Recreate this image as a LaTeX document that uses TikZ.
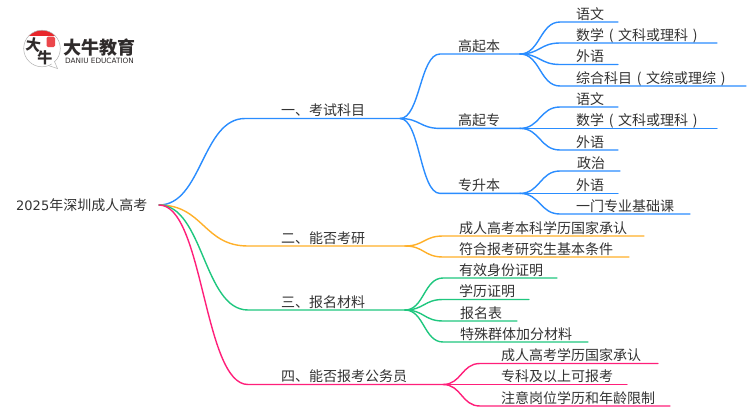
\documentclass[tikz,border=0pt]{standalone}
\usepackage{fontspec}
\usetikzlibrary{calc}
\setmainfont{Noto Sans CJK SC}
\newfontfamily\latinfont{DejaVu Sans}
\definecolor{cblue}{HTML}{2A8DFF}
\definecolor{corange}{HTML}{FFB029}
\definecolor{cgreen}{HTML}{1FC77F}
\definecolor{cpink}{HTML}{FF1F7A}
\definecolor{ctext}{HTML}{333333}
\definecolor{clogo}{HTML}{2F2B2B}
\definecolor{cred}{HTML}{E8262B}
\newcommand{\lp}{\makebox[14pt][c]{(}}
\newcommand{\rp}{\makebox[14pt][c]{)}}
\tikzset{
  x=1pt,y=-1pt,
  label text/.style={anchor=base west,inner sep=0pt,text=ctext,font=\fontsize{14}{14}\selectfont},
  link/.style={line width=1.4pt,line cap=round},
  logo text/.style={inner sep=0pt,text=clogo}
}
% name, parent, colour, x where the line turns flat, y, line end, text x, text
\newcommand{\branch}[8]{%
  \coordinate (#1h) at (#4,#5);
  \coordinate (#1) at (#6,#5);
  \coordinate (#1m) at ($(#2)!.5!(#1h)$);
  \node[label text] (#1t) at (#7,{#5-3}) {#8};
  \draw[link,#3] (#2) .. controls (#1m |- #2) and (#1m |- #1h) .. (#1h) -- (#1);
}
\begin{document}
\begin{tikzpicture}
\useasboundingbox (0,0) rectangle (750,410);
\fill[white] (0,0) rectangle (750,410);
% logo
\begin{scope}
  \clip (42,48.5) circle (18.3);
  \fill[cred] (20,29) rectangle (65,35.5);
\end{scope}
\draw[line width=0.5pt,black!30] (42,48.5) circle (18.3);
\fill[white] (50,62) -- (57.5,68.5) -- (53,60) -- cycle;
\draw[line width=0.5pt,black!30] (48.5,65.6) -- (57.5,68.5) -- (54.5,61.5);
\fill[cred!85,rounded corners=1.5pt] (46.5,36.5) rectangle (55,47);
\node[logo text,font=\fontsize{15}{15}\selectfont\bfseries,rotate=-8] (logoa) at (33.5,45) {大};
\node[logo text,font=\fontsize{15}{15}\selectfont\bfseries] (logob) at (45,58) {牛};
\node[logo text,font=\fontsize{18}{18}\selectfont\bfseries] (logoc) at (99.5,48) {大牛教育};
\node[logo text,font=\latinfont\fontsize{7.3}{8}\selectfont] (logod) at (99.5,60.5) {DANIU EDUCATION};
% root
\node[label text] (roott) at (16,210) {{\latinfont\fontsize{13}{13}\selectfont 2025}年深圳成人高考};
\coordinate (root) at (159,205);
% first branch
\branch{a}{root}{cblue}{245}{118.5}{400}{281}{一、考试科目}
\branch{aa}{a}{cblue}{440}{54}{520}{458}{高起本}
\branch{aaa}{aa}{cblue}{560}{22}{618}{576}{语文}
\branch{aab}{aa}{cblue}{560}{43}{717}{576}{数学\lp 文科或理科\rp}
\branch{aac}{aa}{cblue}{560}{64.5}{618}{576}{外语}
\branch{aad}{aa}{cblue}{560}{86}{746}{576}{综合科目\lp 文综或理综\rp}
\branch{ab}{a}{cblue}{440}{128.4}{520}{458}{高起专}
\branch{aba}{ab}{cblue}{560}{107}{618}{576}{语文}
\branch{abb}{ab}{cblue}{560}{128.4}{717}{576}{数学\lp 文科或理科\rp}
\branch{abc}{ab}{cblue}{560}{150}{618}{576}{外语}
\branch{ac}{a}{cblue}{440}{193.4}{520}{458}{专升本}
\branch{aca}{ac}{cblue}{560}{171}{620}{577}{政治}
\branch{acb}{ac}{cblue}{560}{193.4}{618}{576}{外语}
\branch{acc}{ac}{cblue}{560}{214}{690}{576}{一门专业基础课}
% second branch
\branch{b}{root}{corange}{248}{246}{405}{281}{二、能否考研}
\branch{ba}{b}{corange}{443}{236}{644}{459}{成人高考本科学历国家承认}
\branch{bb}{b}{corange}{443}{257}{629}{459}{符合报考研究生基本条件}
% third branch
\branch{c}{root}{cgreen}{248}{310}{405}{281}{三、报名材料}
\branch{ca}{c}{cgreen}{443}{278}{557}{459}{有效身份证明}
\branch{cb}{c}{cgreen}{443}{299.5}{529}{459}{学历证明}
\branch{cc}{c}{cgreen}{443}{321}{517}{460}{报名表}
\branch{cd}{c}{cgreen}{443}{342}{588}{460}{特殊群体加分材料}
% fourth branch
\branch{d}{root}{cpink}{248}{384.5}{443}{281}{四、能否报考公务员}
\branch{da}{d}{cpink}{480}{363.5}{658}{501}{成人高考学历国家承认}
\branch{db}{d}{cpink}{480}{384.5}{627}{501}{专科及以上可报考}
\branch{dc}{d}{cpink}{480}{406}{670}{501}{注意岗位学历和年龄限制}
\end{tikzpicture}
\end{document}
